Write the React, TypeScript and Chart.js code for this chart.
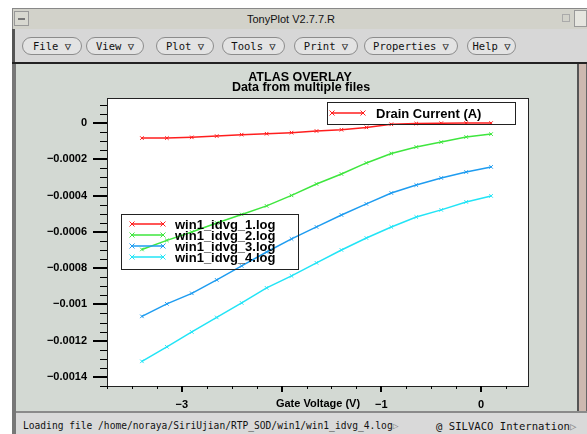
import React, { useEffect, useRef } from "react";
import { Chart, registerables } from "chart.js";

Chart.register(...registerables);

// ---- data ----
const gateVoltage = [-3.4, -3.15, -2.9, -2.65, -2.4, -2.15, -1.9, -1.65, -1.4, -1.15, -0.9, -0.65, -0.4, -0.15, 0.1];
const idvg1 = [-8.3e-5, -8.3e-5, -7.9e-5, -7.2e-5, -6.4e-5, -5.9e-5, -5.3e-5, -4.4e-5, -3.7e-5, -2.4e-5, -7e-6, -3e-6, -1e-6, 0, 0];
const idvg2 = [-6.97e-4, -6.47e-4, -6.01e-4, -5.51e-4, -5.04e-4, -4.57e-4, -3.99e-4, -3.36e-4, -2.81e-4, -2.2e-4, -1.68e-4, -1.32e-4, -1.05e-4, -7.7e-5, -6.1e-5];
const idvg3 = [-1.066e-3, -9.97e-4, -9.39e-4, -8.65e-4, -7.88e-4, -7.11e-4, -6.39e-4, -5.73e-4, -5.07e-4, -4.46e-4, -3.86e-4, -3.42e-4, -3.03e-4, -2.7e-4, -2.42e-4];
const idvg4 = [-1.314e-3, -1.234e-3, -1.152e-3, -1.072e-3, -9.92e-4, -9.09e-4, -8.43e-4, -7.71e-4, -7.0e-4, -6.34e-4, -5.73e-4, -5.18e-4, -4.79e-4, -4.35e-4, -4.02e-4];
const seriesLabels = ["win1_idvg_1.log", "win1_idvg_2.log", "win1_idvg_3.log", "win1_idvg_4.log"];
const seriesColors = ["#ff1e1e", "#3ee63e", "#1e9cf0", "#22e4f6"];
const yQuantityLabel = "Drain Current (A)";
const xAxisLabel = "Gate Voltage (V)";
const chartTitle = "ATLAS OVERLAY";
const chartSubtitle = "Data from multiple files";
const xHiddenTickLabels = [-2];
const menuItems = ["File", "View", "Plot", "Tools", "Print", "Properties", "Help"];
const windowTitle = "TonyPlot V2.7.7.R";
const statusLeft = "Loading file /home/noraya/SiriUjian/RTP_SOD/win1/win1_idvg_4.log";
const statusRight = "@ SILVACO Internation";

const FONT = '"Liberation Sans", Arial, sans-serif';

function fmt(v: number): string {
  const r = Number(v.toFixed(5));
  if (Math.abs(r) < 1e-9) return "0";
  return String(r).replace("-", "\u2212");
}

function drawMarker(ctx: CanvasRenderingContext2D, x: number, y: number, r: number) {
  ctx.beginPath();
  ctx.moveTo(x - r, y - r);
  ctx.lineTo(x + r, y + r);
  ctx.moveTo(x - r, y + r);
  ctx.lineTo(x + r, y - r);
  ctx.stroke();
}

const tonyPlugin = {
  id: "tonyplot",
  beforeDraw(chart: any) {
    const { ctx, chartArea: a } = chart;
    ctx.save();
    ctx.fillStyle = "#ffffff";
    ctx.fillRect(a.left, a.top, a.right - a.left, a.bottom - a.top);
    ctx.restore();
  },
  afterDatasetsDraw(chart: any) {
    const { ctx, chartArea: a } = chart;
    const xs = chart.scales.x;
    const ys = chart.scales.y;
    ctx.save();
    ctx.strokeStyle = "#222";
    ctx.lineWidth = 1;
    ctx.strokeRect(Math.round(a.left) + 0.5, Math.round(a.top) + 0.5, Math.round(a.right - a.left) - 1, Math.round(a.bottom - a.top));
    ctx.strokeStyle = "#000";
    for (let k = -29; k <= 2; k++) {
      const v = k * 0.00005;
      if (v < ys.min - 1e-9 || v > ys.max + 1e-9) continue;
      const major = k % 4 === 0;
      const py = Math.round(ys.getPixelForValue(v));
      ctx.lineWidth = major ? 2 : 1;
      ctx.beginPath();
      const off = major ? 0 : 0.5;
      ctx.moveTo(a.left - (major ? 14 : 7), py + off);
      ctx.lineTo(a.left, py + off);
      ctx.stroke();
    }
    for (let k = -15; k <= 2; k++) {
      const v = k * 0.25;
      if (v < xs.min - 1e-9 || v > xs.max + 1e-9) continue;
      const major = k % 4 === 0;
      const px = Math.round(xs.getPixelForValue(v));
      ctx.lineWidth = major ? 2 : 1;
      ctx.beginPath();
      const off = major ? 0 : 0.5;
      ctx.moveTo(px + off, a.bottom);
      ctx.lineTo(px + off, a.bottom + (major ? 6 : 3));
      ctx.stroke();
    }
    ctx.restore();
  },
  afterDraw(chart: any) {
    const { ctx } = chart;
    ctx.save();
    ctx.fillStyle = "#000";
    ctx.textAlign = "center";
    ctx.textBaseline = "middle";
    ctx.font = `bold 12.5px ${FONT}`;
    ctx.fillText(chartTitle, 300, 78);
    ctx.fillText(chartSubtitle, 301, 88);

    ctx.strokeStyle = "#222";
    ctx.lineWidth = 1;
    ctx.strokeRect(121.5, 214.5, 177, 55);
    const rows = [224, 235, 246, 257];
    chart.data.datasets.forEach((ds: any, i: number) => {
      const y = rows[i];
      ctx.strokeStyle = ds.borderColor;
      ctx.lineWidth = 1.5;
      ctx.beginPath();
      ctx.moveTo(132, y);
      ctx.lineTo(163, y);
      ctx.stroke();
      ctx.lineWidth = 1;
      drawMarker(ctx, 132, y, 2.5);
      drawMarker(ctx, 163, y, 2.5);
      ctx.fillStyle = "#000";
      ctx.textAlign = "left";
      ctx.font = `bold 13px ${FONT}`;
      ctx.fillText(ds.label, 175, y + 1.5);
    });

    ctx.strokeStyle = "#222";
    ctx.lineWidth = 1;
    ctx.strokeRect(327.5, 102.5, 188, 22);
    ctx.strokeStyle = seriesColors[0];
    ctx.lineWidth = 1.5;
    ctx.beginPath();
    ctx.moveTo(332, 113);
    ctx.lineTo(363, 113);
    ctx.stroke();
    ctx.lineWidth = 1;
    drawMarker(ctx, 332, 113, 2.5);
    drawMarker(ctx, 363, 113, 2.5);
    ctx.fillStyle = "#000";
    ctx.font = `bold 13px ${FONT}`;
    ctx.textAlign = "left";
    ctx.fillText(yQuantityLabel, 376, 114);
    ctx.restore();
  },
};

function PlotCanvas() {
  const ref = useRef<HTMLCanvasElement | null>(null);
  useEffect(() => {
    if (!ref.current) return;
    const series = [idvg1, idvg2, idvg3, idvg4];
    const chart = new Chart(ref.current, {
      type: "line",
      data: {
        datasets: series.map((s, i) => ({
          label: seriesLabels[i],
          data: gateVoltage.map((x, j) => ({ x, y: s[j] })),
          borderColor: seriesColors[i],
          backgroundColor: seriesColors[i],
          borderWidth: 1.5,
          pointStyle: "crossRot",
          pointRadius: 2.5,
          pointBorderWidth: 1,
          pointBorderColor: seriesColors[i],
          tension: 0,
          fill: false,
        })),
      },
      options: {
        responsive: false,
        animation: false,
        devicePixelRatio: 1,
        layout: { padding: { left: 17, top: 98, right: 58, bottom: 24 } },
        plugins: {
          legend: { display: false },
          title: { display: false },
          tooltip: { enabled: false },
        },
        scales: {
          x: {
            type: "linear",
            min: -3.75,
            max: 0.48,
            afterFit: (s: any) => {
              s.height = 24;
            },
            grid: { display: false, drawTicks: false },
            border: { display: false },
            ticks: {
              stepSize: 1,
              includeBounds: false,
              autoSkip: false,
              maxRotation: 0,
              padding: 12,
              color: "#000",
              font: { family: FONT, size: 11, weight: "bold" },
              callback: (v: any) => (xHiddenTickLabels.includes(Number(v)) ? "" : fmt(Number(v))),
            },
            title: {
              display: true,
              text: xAxisLabel,
              color: "#000",
              font: { family: FONT, size: 11, weight: "bold" },
              padding: { top: 0, bottom: -1 },
            },
          },
          y: {
            type: "linear",
            min: -0.00145,
            max: 0.000138,
            afterFit: (s: any) => {
              s.width = 90;
            },
            grid: { display: false, drawTicks: false },
            border: { display: false },
            ticks: {
              stepSize: 0.0002,
              includeBounds: false,
              autoSkip: false,
              padding: 20,
              color: "#000",
              font: { family: FONT, size: 11, weight: "bold" },
              callback: (v: any) => fmt(Number(v)),
            },
          },
        },
      },
      plugins: [tonyPlugin],
    } as any);
    return () => chart.destroy();
  }, []);
  return <canvas ref={ref} width={587} height={434} style={{ position: "absolute", left: 0, top: 0, display: "block" }} />;
}

const buttonBoxes = [
  [22, 60],
  [86, 58],
  [156, 58],
  [222, 63],
  [294, 64],
  [364, 94],
  [467, 49],
];

export default function App() {
  return (
    <div
      style={{
        position: "fixed",
        left: 0,
        top: 0,
        width: 587,
        height: 434,
        overflow: "hidden",
        background: "#ffffff",
        fontFamily: FONT,
      }}
    >
      <div style={{ position: "absolute", left: 12, top: 8, width: 575, height: 21, background: "#d2d2ca", borderTop: "1px solid #888", borderLeft: "1px solid #888", boxSizing: "border-box" }} />
      <div style={{ position: "absolute", left: 14, top: 11, width: 15, height: 15, border: "1px solid #999", boxSizing: "border-box", background: "#d8d8d0" }}>
        <div style={{ position: "absolute", left: 3, top: 6, width: 7, height: 2, background: "#777" }} />
      </div>
      <div style={{ position: "absolute", left: 562, top: 14, width: 8, height: 8, border: "1px solid #aaa", boxSizing: "border-box" }} />
      <div style={{ position: "absolute", left: 574, top: 10, width: 13, height: 17, border: "1px solid #999", boxSizing: "border-box", background: "#e6e6e0" }} />
      <div style={{ position: "absolute", left: 191, top: 12, width: 200, textAlign: "center", fontSize: 11, color: "#111", lineHeight: "14px" }}>
        {windowTitle}
      </div>
      <div style={{ position: "absolute", left: 12, top: 29, width: 575, height: 34, background: "#d7d7d7", borderLeft: "3px solid #555", boxSizing: "border-box" }} />
      {menuItems.map((m, i) => (
        <div
          key={m}
          style={{
            position: "absolute",
            left: buttonBoxes[i][0],
            top: 37,
            width: buttonBoxes[i][1],
            height: 18,
            boxSizing: "border-box",
            border: "1px solid #8c8c8c",
            borderRadius: 9,
            background: "#e3e3e3",
            fontFamily: '"DejaVu Sans Mono", monospace',
            fontSize: 10.5,
            lineHeight: "16px",
            textAlign: "center",
            color: "#111",
            whiteSpace: "pre",
          }}
        >
          {m + " \u25BD"}
        </div>
      ))}
      <div style={{ position: "absolute", left: 12, top: 62, width: 575, height: 2, background: "#222" }} />
      <div style={{ position: "absolute", left: 12, top: 64, width: 4, height: 370, background: "#777" }} />
      <div style={{ position: "absolute", left: 16, top: 64, width: 561, height: 347, background: "#d3d9d3" }} />
      <div style={{ position: "absolute", left: 577, top: 64, width: 10, height: 350, background: "#cdb9b0", borderLeft: "2px solid #555", borderRight: "1px solid #666", boxSizing: "border-box" }} />
      <div style={{ position: "absolute", left: 16, top: 411, width: 571, height: 23, background: "#d9d9d9", borderTop: "2px solid #8a8a8a", boxSizing: "border-box" }} />
      <div style={{ position: "absolute", left: 23, top: 419, fontFamily: '"DejaVu Sans Mono", monospace', fontSize: 9.6, color: "#111", whiteSpace: "pre", lineHeight: "14px" }}>
        {statusLeft}
        <span style={{ color: "#888" }}>{"\u25B7"}</span>
      </div>
      <div style={{ position: "absolute", left: 436, top: 419, fontFamily: '"DejaVu Sans Mono", monospace', fontSize: 10.6, color: "#111", whiteSpace: "pre", lineHeight: "14px" }}>
        {statusRight}
        <span style={{ color: "#888" }}>{"\u25B7"}</span>
      </div>
      <PlotCanvas />
    </div>
  );
}
